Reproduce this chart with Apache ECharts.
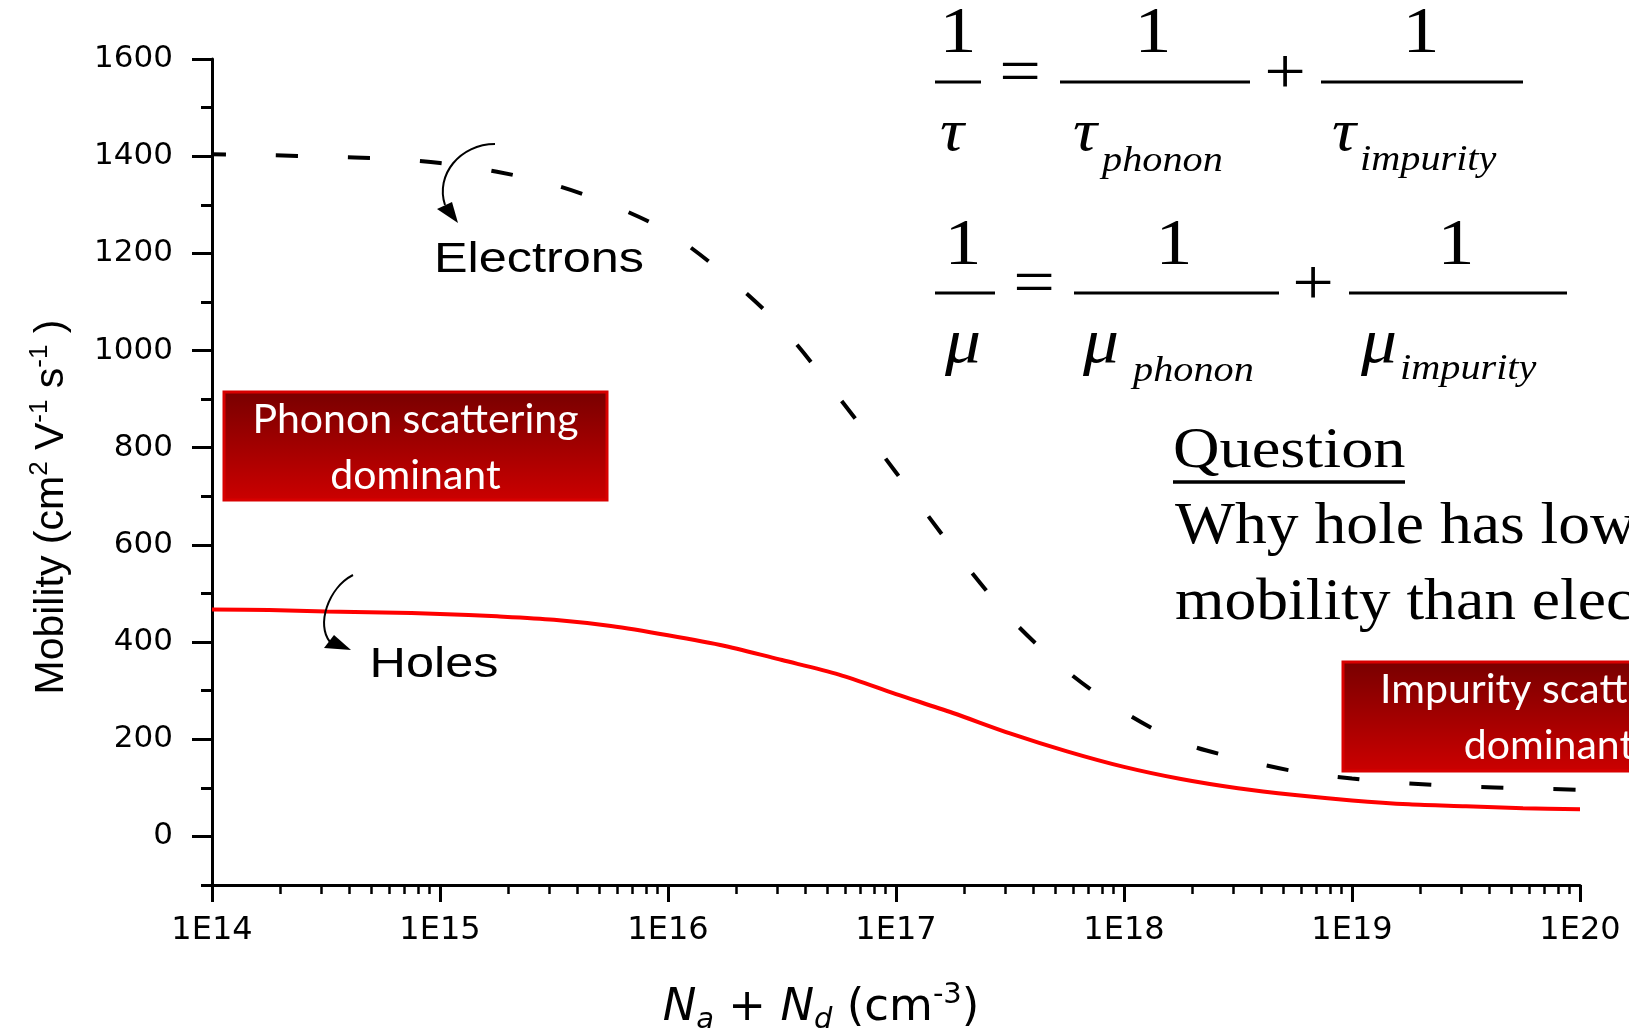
<!DOCTYPE html>
<html><head><meta charset="utf-8">
<script src="https://cdn.jsdelivr.net/npm/echarts@6/dist/echarts.min.js"></script>
<style>html,body{margin:0;padding:0;background:#fff}#c{width:1629px;height:1035px}</style>
</head><body><div id="c"></div>
<script>
// ---- data ----
const concentrations = [1e14, 1.778e14, 3.162e14, 5.623e14, 1e15, 1.778e15, 3.162e15, 5.623e15,
  1e16, 1.778e16, 3.162e16, 5.623e16, 1e17, 1.778e17, 3.162e17, 5.623e17,
  1e18, 1.778e18, 3.162e18, 5.623e18, 1e19, 1.778e19, 3.162e19, 5.623e19, 1e20];
const electronMobility = [1404, 1402, 1399, 1395, 1386, 1368, 1341, 1300, 1244, 1156, 1047, 903, 749,
  592, 450, 340, 256, 194, 160, 134, 119, 109, 103, 99, 96];
const holeMobility = [467, 466, 463, 461, 458, 453, 446, 433, 414, 392, 363, 333, 293,
  254, 212, 175, 143, 118, 99, 85, 74, 66, 62, 58, 56];
const yTickLabels = [0, 200, 400, 600, 800, 1000, 1200, 1400, 1600];
const yMinorTicks = [-100, 100, 300, 500, 700, 900, 1100, 1300, 1500];
const xTickLabels = ['1E14', '1E15', '1E16', '1E17', '1E18', '1E19', '1E20'];
const xDecades = [14, 15, 16, 17, 18, 19];
const xMinorMultipliers = [2, 3, 4, 5, 6, 7, 8, 9];

const xMinorLog = [];
xDecades.forEach(d => xMinorMultipliers.forEach(m => xMinorLog.push(d + Math.log10(m))));
const elecData = concentrations.map((c, i) => [c, electronMobility[i]]);
const holeData = concentrations.map((c, i) => [c, holeMobility[i]]);

const chart = echarts.init(document.getElementById('c'), null, {renderer: 'canvas'});
const tickFont = 'DejaVu Sans';
const serif = '"Liberation Serif", "Times New Roman", serif';

function txt(x, y, text, font, opts) {
  opts = opts || {};
  return {
    type: 'text', x: x, y: y, z: 100, scaleX: opts.sx || 1,
    style: {
      text: text, x: 0, y: 0, font: font, fill: opts.fill || '#000',
      align: opts.align || 'center', verticalAlign: 'middle',
      textAlign: opts.align || 'center', textVerticalAlign: 'middle'
    }
  };
}
function hline(x1, x2, y, w) {
  return {type: 'line', z: 100, shape: {x1: x1, y1: y, x2: x2, y2: y}, style: {stroke: '#000', lineWidth: w || 3}};
}
function grad() {
  return new echarts.graphic.LinearGradient(0, 0, 0, 1, [
    {offset: 0, color: '#780000'}, {offset: 1, color: '#cc0000'}]);
}

const F1 = '66px ' + serif, FG = 'italic 60px ' + serif, FM = 'italic 64px ' + serif, FS = 'italic 35px ' + serif;
const boxFont = '41px Lato';

const graphics = [
  // formula 1 : tau
  txt(958, 35, '1', F1, {sx: 1.12}), txt(1153, 35, '1', F1, {sx: 1.12}), txt(1421, 35, '1', F1, {sx: 1.12}),
  hline(935, 981, 82), hline(1060, 1250, 82), hline(1321, 1523, 82),
  txt(1020, 76, '=', F1, {sx: 1.12}), txt(1285, 76, '+', F1, {sx: 1.12}),
  txt(952, 134, 'τ', FG, {sx: 1.12}), txt(1085, 134, 'τ', FG, {sx: 1.12}), txt(1344, 134, 'τ', FG, {sx: 1.12}),
  txt(1102, 162, 'phonon', FS, {sx: 1.15, align: 'left'}),
  txt(1360, 161, 'impurity', FS, {sx: 1.15, align: 'left'}),
  // formula 2 : mu
  txt(963, 247, '1', F1, {sx: 1.12}), txt(1174, 247, '1', F1, {sx: 1.12}), txt(1456, 247, '1', F1, {sx: 1.12}),
  hline(935, 995, 293), hline(1074, 1279, 293), hline(1349, 1567, 293),
  txt(1034, 287, '=', F1, {sx: 1.12}), txt(1313, 287, '+', F1, {sx: 1.12}),
  txt(963, 345, 'μ', FM, {sx: 1.12}), txt(1101, 345, 'μ', FM, {sx: 1.12}), txt(1379, 345, 'μ', FM, {sx: 1.12}),
  txt(1133, 372, 'phonon', FS, {sx: 1.15, align: 'left'}),
  txt(1400, 370, 'impurity', FS, {sx: 1.15, align: 'left'}),
  // question
  txt(1173, 452, 'Question', '56px ' + serif, {sx: 1.15, align: 'left'}),
  hline(1173, 1405, 482, 3.5),
  txt(1175, 527, 'Why hole has lower', '60px ' + serif, {sx: 1.06, align: 'left'}),
  txt(1175, 603, 'mobility than electrons?', '60px ' + serif, {sx: 1.06, align: 'left'}),
  // curve labels
  txt(539, 260, 'Electrons', '42px "Liberation Sans", Arial, sans-serif', {sx: 1.2}),
  txt(434, 665, 'Holes', '42px "Liberation Sans", Arial, sans-serif', {sx: 1.2}),
  // arrows
  {type: 'bezierCurve', z: 100, shape: {x1: 495, y1: 144, cpx1: 460, cpy1: 144, cpx2: 435, cpy2: 175, x2: 445, y2: 205},
    style: {stroke: '#000', lineWidth: 2, fill: null}},
  {type: 'polygon', z: 100, shape: {points: [[458, 223], [437, 209], [452, 202]]}, style: {fill: '#000'}},
  {type: 'bezierCurve', z: 100, shape: {x1: 353, y1: 575, cpx1: 328, cpy1: 588, cpx2: 316, cpy2: 625, x2: 330, y2: 642},
    style: {stroke: '#000', lineWidth: 2, fill: null}},
  {type: 'polygon', z: 100, shape: {points: [[351, 650], [324, 648], [334, 635]]}, style: {fill: '#000'}},
  // red boxes
  {type: 'rect', z: 90, shape: {x: 224, y: 392, width: 383, height: 108}, style: {fill: grad(), stroke: '#d80000', lineWidth: 3}},
  txt(415.5, 420, 'Phonon scattering', boxFont, {fill: '#fff'}),
  txt(415.5, 476, 'dominant', boxFont, {fill: '#fff'}),
  {type: 'rect', z: 90, shape: {x: 1343, y: 662, width: 412, height: 109}, style: {fill: grad(), stroke: '#d80000', lineWidth: 3}},
  txt(1549, 690, 'Impurity scattering', boxFont, {fill: '#fff'}),
  txt(1549, 746, 'dominant', boxFont, {fill: '#fff'})
];

const option = {
  backgroundColor: '#fff',
  animation: false,
  grid: {left: 212, right: 49, top: 59, bottom: 150, containLabel: false, outerBoundsMode: 'none'},
  xAxis: [{
    type: 'log', logBase: 10, min: 1e14, max: 1e20,
    axisLine: {onZero: false, lineStyle: {color: '#000', width: 3}},
    axisTick: {length: 17, lineStyle: {color: '#000', width: 3}},
    splitLine: {show: false},
    axisLabel: {
      margin: 30, color: '#000', fontFamily: tickFont, fontSize: 32,
      formatter: v => xTickLabels[Math.round(Math.log10(v)) - 14]
    },
    nameLocation: 'middle', nameGap: 96,
    name: '{i|N}{sb|a}{n| + }{i|N}{sb|d}{n| (cm}{sp|-3}{n|)}',
    nameTextStyle: {
      padding: [0, 150, 0, 0],
      rich: {
        n: {fontFamily: tickFont, fontSize: 45, lineHeight: 54, color: '#000'},
        i: {fontFamily: tickFont, fontSize: 45, fontStyle: 'italic', lineHeight: 54, color: '#000'},
        sb: {fontFamily: tickFont, fontSize: 29, fontStyle: 'italic', lineHeight: 18, verticalAlign: 'bottom', color: '#000'},
        sp: {fontFamily: tickFont, fontSize: 29, lineHeight: 32, verticalAlign: 'top', color: '#000'}
      }
    }
  }, {
    type: 'value', min: 14, max: 20, position: 'bottom',
    axisLine: {show: false, onZero: false},
    axisTick: {show: true, customValues: xMinorLog, length: 9, lineStyle: {color: '#000', width: 2.5}},
    axisLabel: {show: false},
    splitLine: {show: false}
  }],
  yAxis: [{
    type: 'value', min: -100, max: 1600,
    axisLine: {show: true, onZero: false, lineStyle: {color: '#000', width: 3}},
    axisTick: {show: true, customValues: yTickLabels, length: 20, lineStyle: {color: '#000', width: 3}},
    axisLabel: {customValues: yTickLabels, margin: 39, color: '#000', fontFamily: tickFont, fontSize: 31,
      formatter: v => String(v)},
    splitLine: {show: false},
    nameLocation: 'middle', nameGap: 135,
    name: '{n|Mobility (cm}{s|2}{n| V}{s|-1}{n| s}{s|-1}{n| )}',
    nameTextStyle: {
      padding: [0, 70, 0, 0],
      rich: {
        n: {fontFamily: '"Liberation Sans", Arial, sans-serif', fontSize: 41, lineHeight: 50, color: '#000'},
        s: {fontFamily: '"Liberation Sans", Arial, sans-serif', fontSize: 26, lineHeight: 30, verticalAlign: 'top', color: '#000'}
      }
    }
  }, {
    type: 'value', min: -100, max: 1600, position: 'left',
    axisLine: {show: false, onZero: false},
    axisTick: {show: true, customValues: yMinorTicks, length: 11, lineStyle: {color: '#000', width: 3}},
    axisLabel: {show: false},
    splitLine: {show: false}
  }],
  series: [{
    name: 'Electrons', type: 'line', xAxisIndex: 0, yAxisIndex: 0,
    data: elecData, symbol: 'none', smooth: 0.3,
    lineStyle: {color: '#000', width: 4, type: [22, 50], dashOffset: 8, cap: 'butt'},
    z: 5
  }, {
    name: 'Holes', type: 'line', xAxisIndex: 0, yAxisIndex: 0,
    data: holeData, symbol: 'none', smooth: 0.3,
    lineStyle: {color: '#ff0000', width: 4},
    z: 4
  }],
  graphic: {elements: graphics}
};
chart.setOption(option);
</script>
</body></html>
